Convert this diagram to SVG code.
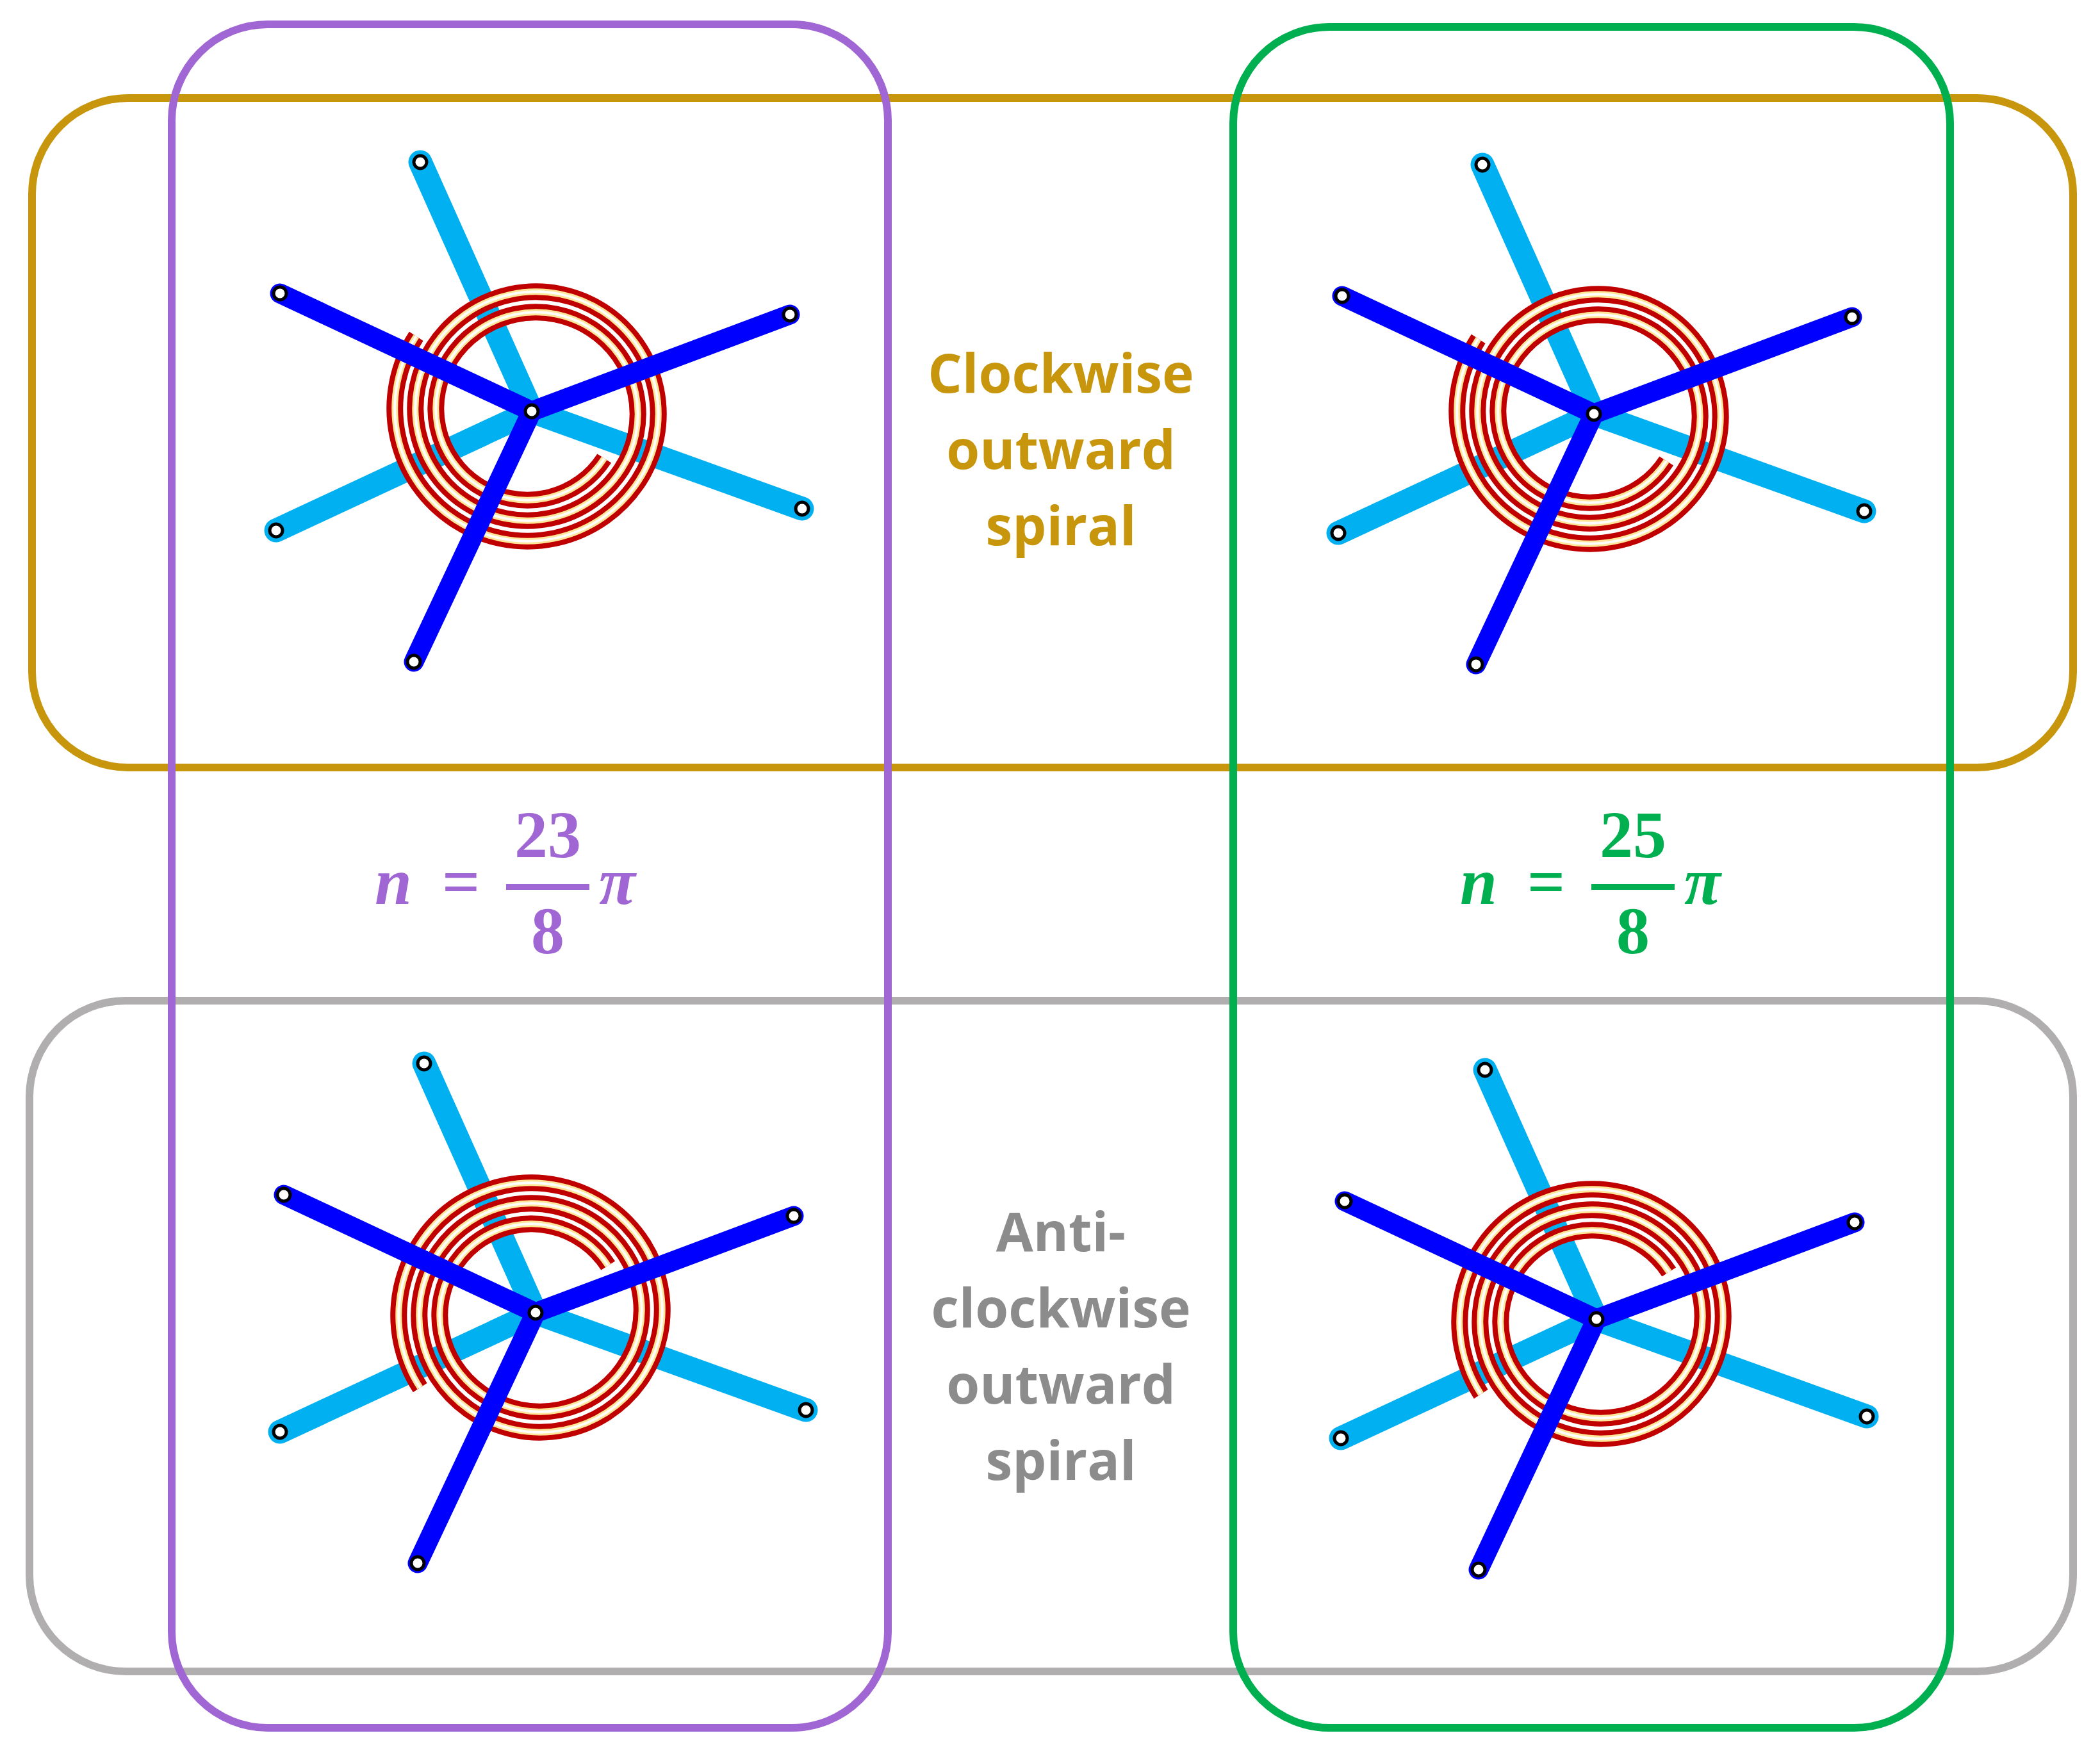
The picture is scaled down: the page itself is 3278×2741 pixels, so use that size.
<svg xmlns="http://www.w3.org/2000/svg" xmlns:xlink="http://www.w3.org/1999/xlink" width="3278" height="2741" viewBox="0 0 3278 2741">
<style>
.frame{fill:none;stroke-width:12}
.lb{stroke:#00b0f0;stroke-width:37;stroke-linecap:round;fill:none}
.db{stroke:#0000ff;stroke-width:31;stroke-linecap:round;fill:none}
.sr{fill:none;stroke:#c00000;stroke-width:26}
.sy{fill:none;stroke:#ffe699;stroke-width:10}
.sw{fill:none;stroke:#ffffff;stroke-width:4}
.dot{fill:#fff;stroke:#000;stroke-width:5}
.lbl{font-family:"Open Sans","Liberation Sans",sans-serif;font-weight:bold;font-size:84px;text-anchor:middle}
.m{font-family:"Liberation Serif",serif;font-weight:bold;font-size:104px}
.mi{font-style:italic}
</style>
<defs>
<path id="sp" d="M135,0 A143,143 0 0 1 -151,0 A159,159 0 0 1 167,0 A175,175 0 0 1 -183,0 A191,191 0 0 1 199,0 A207,207 0 0 1 -215,0"/>
<g id="lbarms">
<path class="lb" d="M-174,-389 L0,0 M-399,186 L0,0 M422,152 L0,0"/>
</g>
<g id="dbarms">
<path class="db" d="M-393,-184 L0,0 M403,-151 L0,0 M-184,391 L0,0"/>
<circle class="dot" cx="-393" cy="-184" r="10"/><circle class="dot" cx="403" cy="-151" r="10"/><circle class="dot" cx="-184" cy="391" r="10"/>
<circle class="dot" cx="-174" cy="-389" r="10"/><circle class="dot" cx="-399" cy="186" r="10"/><circle class="dot" cx="422" cy="152" r="10"/>
<circle class="dot" cx="0" cy="0" r="10"/>
</g>
<g id="spiral"><use href="#sp" class="sr"/><use href="#sp" class="sy"/><use href="#sp" class="sw"/></g>
</defs>
<rect width="3278" height="2741" fill="#fff"/>
<g id="frames">
<rect class="frame" x="50" y="153" width="3186" height="1045" rx="150" stroke="#c8960c"/>
<rect class="frame" x="46" y="1562" width="3190" height="1047" rx="150" stroke="#b0aeae"/>
</g>
<g id="node-tl" transform="translate(830,642)"><use href="#lbarms"/><g transform="rotate(33)"><use href="#spiral"/></g><use href="#dbarms"/></g>
<g id="node-tr" transform="translate(2488,646)"><use href="#lbarms"/><g transform="rotate(33)"><use href="#spiral"/></g><use href="#dbarms"/></g>
<g id="node-bl" transform="translate(836,2049)"><use href="#lbarms"/><g transform="rotate(-33) scale(1,-1)"><use href="#spiral"/></g><use href="#dbarms"/></g>
<g id="node-br" transform="translate(2492,2059)"><use href="#lbarms"/><g transform="rotate(-33) scale(1,-1)"><use href="#spiral"/></g><use href="#dbarms"/></g>
<g id="frames2">
<rect class="frame" x="268" y="38" width="1118" height="2659" rx="150" stroke="#a066d3"/>
<rect class="frame" x="1925" y="42" width="1119" height="2655" rx="150" stroke="#00b050"/>
</g>
<g id="label-cw" class="lbl" fill="#c8960c">
<text x="1656" y="613">Clockwise</text><text x="1656" y="732">outward</text><text x="1656" y="851">spiral</text>
</g>
<g id="label-acw" class="lbl" fill="#8c8c8c">
<text x="1656" y="1953">Anti-</text><text x="1656" y="2072">clockwise</text><text x="1656" y="2191">outward</text><text x="1656" y="2310">spiral</text>
</g>
<g id="math-23" class="m" fill="#a066d3">
<text x="585" y="1411" class="mi">n</text>
<text x="690" y="1411">=</text>
<rect x="790" y="1380" width="130" height="9"/>
<text x="855" y="1338" text-anchor="middle">23</text>
<text x="855" y="1488" text-anchor="middle">8</text>
<text x="935" y="1411" class="mi">π</text>
</g>
<g id="math-25" class="m" fill="#00b050">
<text x="2279" y="1411" class="mi">n</text>
<text x="2384" y="1411">=</text>
<rect x="2484" y="1380" width="130" height="9"/>
<text x="2549" y="1338" text-anchor="middle">25</text>
<text x="2549" y="1488" text-anchor="middle">8</text>
<text x="2629" y="1411" class="mi">π</text>
</g>
</svg>
